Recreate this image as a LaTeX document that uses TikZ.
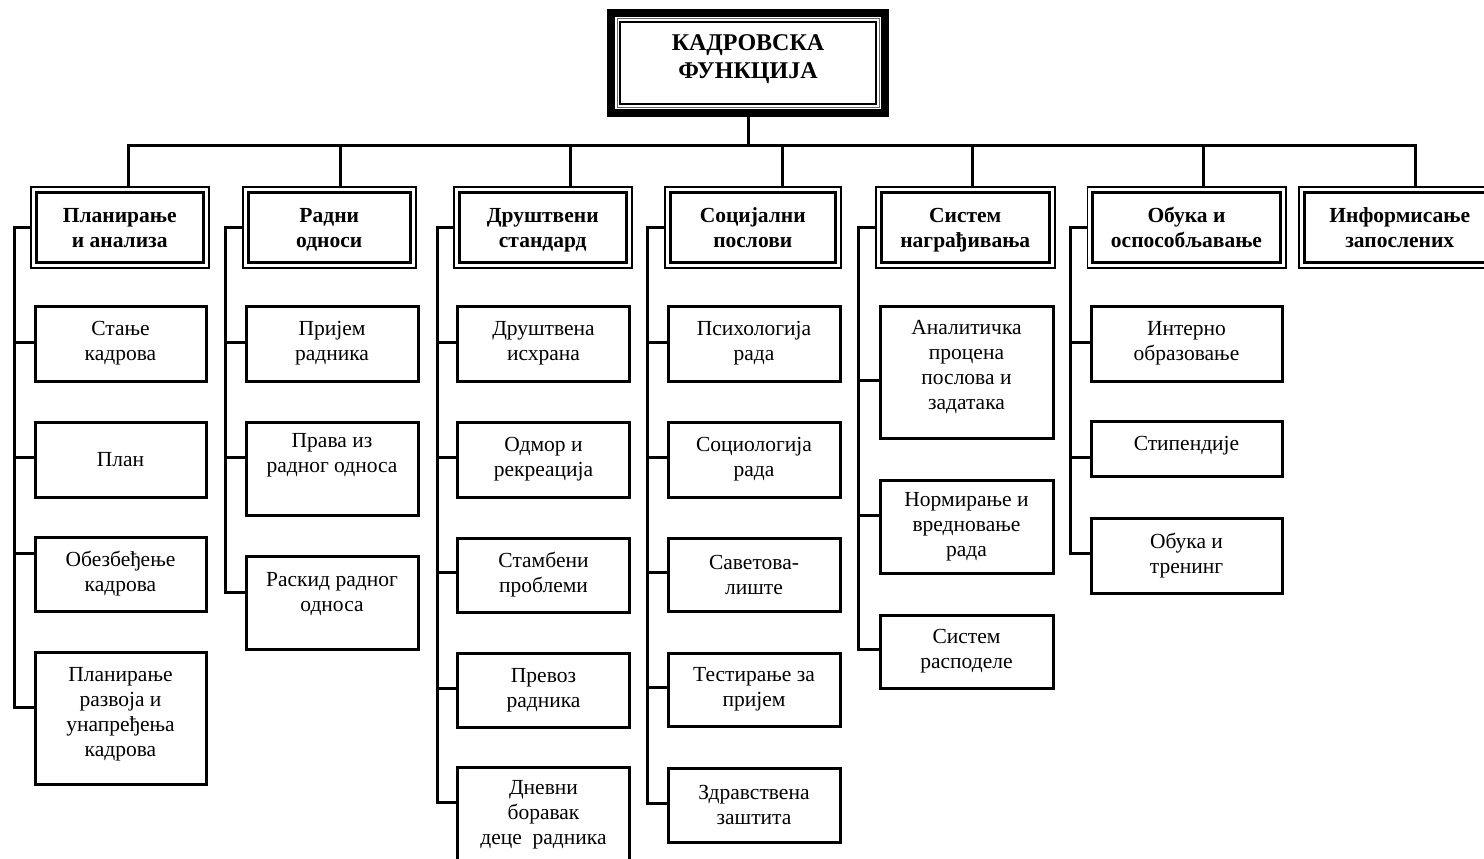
\documentclass[tikz,border=0pt]{standalone}
\usepackage{fontspec}
\setmainfont{Liberation Serif}
% invisible depth strut that lifts centred text a little
\newcommand\padlow[1]{\rule[-#1]{0pt}{#1}}
% two-line heading with fixed line metrics
\newcommand\twoline[2]{\rule{0pt}{23.5pt}#1\\#2\strut}
% child box with the point where its stub meets it
\newcommand\kidbox[7]{%
  \node[kid, minimum width=#4pt, minimum height=#5pt] (#1) at (#2,#3) {#7};
  \coordinate (#1-in) at (#1.west |- 0,#6);}
\begin{document}
\begin{tikzpicture}[x=1pt,y=-1pt,
  conn/.style={line width=3pt, line join=miter},
  topbox/.style={draw, line width=8pt, minimum width=274pt, minimum height=100pt,
    inner sep=0pt, align=center, anchor=north west,
    font=\fontsize{24}{28}\selectfont\bfseries,
    path picture={
      \draw[line width=1pt, black!60]
        ([shift={(6pt,-6pt)}]path picture bounding box.north west) rectangle
        ([shift={(-6pt,6pt)}]path picture bounding box.south east);
      \draw[line width=1.5pt]
        ([shift={(9pt,-9pt)}]path picture bounding box.north west) rectangle
        ([shift={(-9pt,9pt)}]path picture bounding box.south east);}},
  lvl/.style={draw, line width=1.5pt, minimum height=81pt, inner sep=0pt,
    align=center, anchor=north west,
    font=\fontsize{21.5}{25}\selectfont\bfseries,
    path picture={
      \draw[line width=3pt]
        ([shift={(5.5pt,-5.5pt)}]path picture bounding box.north west) rectangle
        ([shift={(-5.5pt,5.5pt)}]path picture bounding box.south east);}},
  kid/.style={draw, line width=3pt, inner sep=0pt, align=center, anchor=north west,
    font=\fontsize{21.5}{25}\selectfont}
]
\clip (0,0) rectangle (1484,859);

% root
\node[topbox] (top) at (607,9) {КАДРОВСКА\\ФУНКЦИЈА\padlow{13pt}};

% first level
\node[lvl, minimum width=178pt]   (L1) at (30,186)   {\twoline{Планирање}{и анализа}};
\node[lvl, minimum width=173pt]   (L2) at (242,186)  {\twoline{Радни}{односи}};
\node[lvl, minimum width=178pt]   (L3) at (453,186)  {\twoline{Друштвени}{стандард}};
\node[lvl, minimum width=176pt]   (L4) at (664,186)  {\twoline{Социјални}{послови}};
\node[lvl, minimum width=179pt]   (L5) at (875,186)  {\twoline{Систем}{награђивања}};
\node[lvl, minimum width=198.5pt] (L6) at (1086.5,186) {\twoline{Обука и}{оспособљавање}};
\node[lvl, minimum width=202pt]   (L7) at (1298,186) {\twoline{Информисање}{запослених}};
\foreach \k in {1,...,6} \coordinate (L\k-in) at (L\k.west |- 0,227);

% drop points on the distribution bar
\coordinate (d1) at (128,145);
\coordinate (d2) at (340,145);
\coordinate (d3) at (570,145);
\coordinate (d4) at (782,145);
\coordinate (d5) at (972,145);
\coordinate (d6) at (1203.5,145);
\coordinate (d7) at (1415,145);

\draw[conn] (top.south) -- (top.south |- d4);
\draw[conn] (d1 |- L1.north) -- (d1) -- (d7) -- (d7 |- L7.north);
\foreach \k in {2,...,6} \draw[conn] (d\k) -- (d\k |- L\k.north);

% group 1
\kidbox{c11}{33.5}{304.5}{171}{75}{342}{Стање\\кадрова}
\kidbox{c12}{33.5}{420.5}{171}{75}{457}{План}
\kidbox{c13}{33.5}{535.5}{171}{74}{553}{Обезбеђење\\кадрова}
\kidbox{c14}{33.5}{650.5}{171}{132}{707}{Планирање\\развоја и\\унапређења\\кадрова\padlow{12pt}}

% group 2
\kidbox{c21}{244.5}{304.5}{172}{75}{342}{Пријем\\радника}
\kidbox{c22}{244.5}{420.5}{172}{93}{457}{Права из\\радног односа\padlow{32pt}}
\kidbox{c23}{244.5}{554.5}{172}{93}{592}{Раскид радног\\односа\padlow{22pt}}

% group 3
\kidbox{c31}{456}{304.5}{172}{75}{342}{Друштвена\\исхрана}
\kidbox{c32}{456}{420.5}{172}{75}{457}{Одмор и\\рекреација}
\kidbox{c33}{456}{536.5}{172}{74}{572}{Стамбени\\проблеми}
\kidbox{c34}{456}{651.5}{172}{74}{688}{Превоз\\радника}
\kidbox{c35}{456}{765.5}{172}{95}{802}{Дневни\\боравак\\деце \ радника}

% group 4
\kidbox{c41}{666.5}{304.5}{172}{75}{342}{Психологија\\рада}
\kidbox{c42}{666.5}{420.5}{172}{75}{457}{Социологија\\рада}
\kidbox{c43}{666.5}{536.5}{172}{73}{572}{Саветова-\\лиште}
\kidbox{c44}{666.5}{651.5}{172}{73}{687}{Тестирање за\\пријем}
\kidbox{c45}{666.5}{766.5}{172}{74}{803}{Здравствена\\заштита}

% group 5
\kidbox{c51}{878.5}{304.5}{173}{132}{380}{Аналитичка\\процена\\послова и\\задатака\padlow{14pt}}
\kidbox{c52}{878.5}{478.5}{173}{93}{515}{Нормирање и\\вредновање\\рада}
\kidbox{c53}{878.5}{613.5}{173}{73}{649}{Систем\\расподеле}

% group 6
\kidbox{c61}{1089.5}{304.5}{191}{75}{342}{Интерно\\образовање}
\kidbox{c62}{1089.5}{419.5}{191}{55}{457}{Стипендије\padlow{10pt}}
\kidbox{c63}{1089.5}{516.5}{191}{75}{553}{Обука и\\тренинг}

% left spines of the groups
\coordinate (s1) at (14,0);
\coordinate (s2) at (225,0);
\coordinate (s3) at (437,0);
\coordinate (s4) at (647,0);
\coordinate (s5) at (858.5,0);
\coordinate (s6) at (1070,0);

\draw[conn] (L1-in) -- (L1-in -| s1) -- (c14-in -| s1) -- (c14-in);
\foreach \c in {c11,c12,c13} \draw[conn] (\c-in -| s1) -- (\c-in);

\draw[conn] (L2-in) -- (L2-in -| s2) -- (c23-in -| s2) -- (c23-in);
\foreach \c in {c21,c22} \draw[conn] (\c-in -| s2) -- (\c-in);

\draw[conn] (L3-in) -- (L3-in -| s3) -- (c35-in -| s3) -- (c35-in);
\foreach \c in {c31,c32,c33,c34} \draw[conn] (\c-in -| s3) -- (\c-in);

\draw[conn] (L4-in) -- (L4-in -| s4) -- (c45-in -| s4) -- (c45-in);
\foreach \c in {c41,c42,c43,c44} \draw[conn] (\c-in -| s4) -- (\c-in);

\draw[conn] (L5-in) -- (L5-in -| s5) -- (c53-in -| s5) -- (c53-in);
\foreach \c in {c51,c52} \draw[conn] (\c-in -| s5) -- (\c-in);

\draw[conn] (L6-in) -- (L6-in -| s6) -- (c63-in -| s6) -- (c63-in);
\foreach \c in {c61,c62} \draw[conn] (\c-in -| s6) -- (\c-in);
\end{tikzpicture}
\end{document}
